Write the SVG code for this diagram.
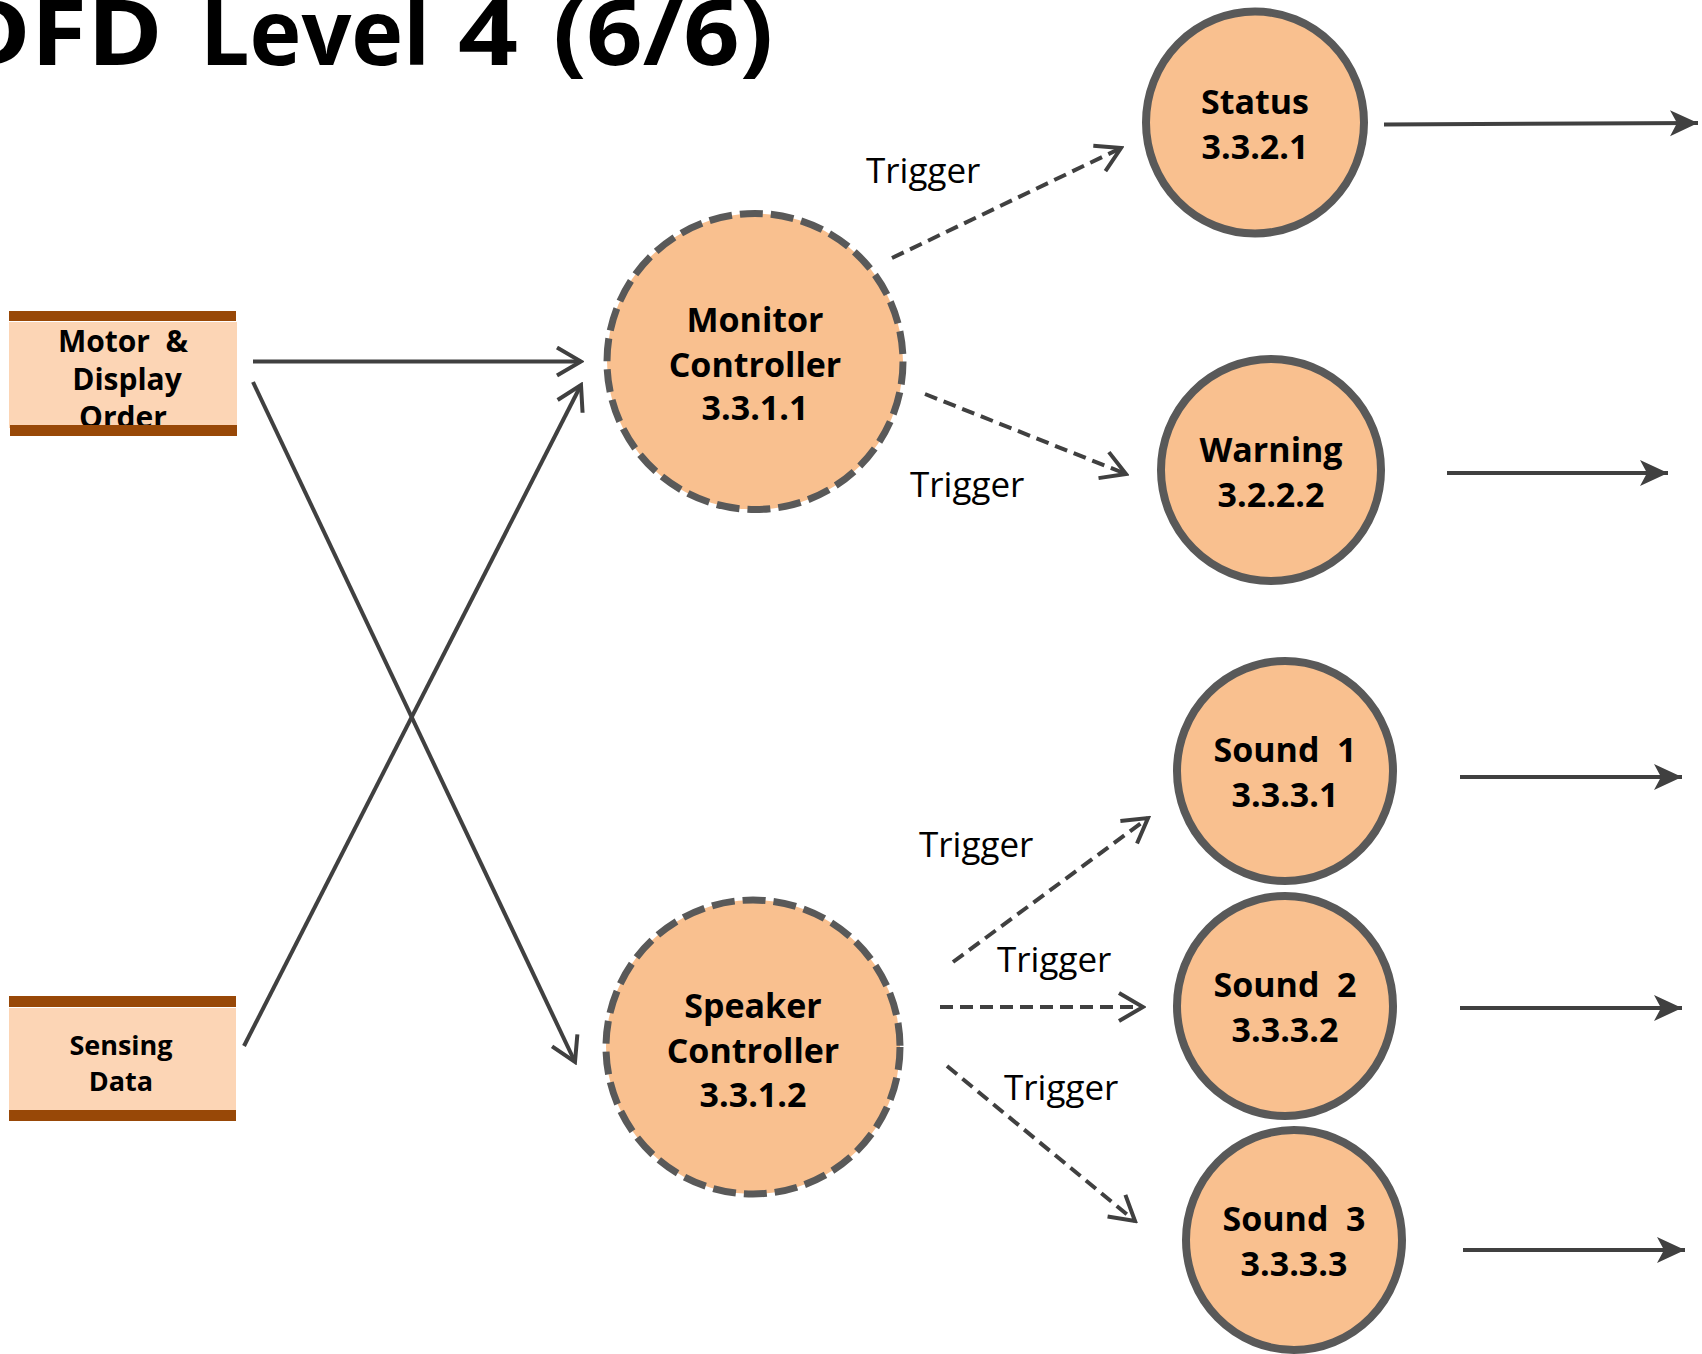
<svg xmlns="http://www.w3.org/2000/svg" width="1702" height="1354" viewBox="0 0 1702 1354">
  <style>
    .title { font-family: "Open Sans", "Noto Sans", sans-serif; font-weight: bold; font-size: 92px; fill: #000; }
    .lbl { font-family: "Open Sans", "Noto Sans", sans-serif; font-weight: bold; font-size: 34px; fill: #000; text-anchor: middle; }
    .store-lbl { font-family: "Open Sans", "Noto Sans", sans-serif; font-weight: bold; fill: #000; text-anchor: middle; }
    .trig { font-family: "Open Sans", "Noto Sans", sans-serif; font-size: 35px; fill: #000; }
    .proc { fill: #F9C08F; stroke: #595959; stroke-width: 8; }
    .ctrl { fill: #F9C08F; stroke: #595959; stroke-width: 7; stroke-dasharray: 23 8; }
    .store-fill { fill: #FCD5B5; }
    .store-bar { fill: #984807; }
    .flow { stroke: #404040; stroke-width: 4; fill: none; }
    .trigger { stroke: #404040; stroke-width: 4; fill: none; stroke-dasharray: 13 7; }
  </style>
  <defs>
    <marker id="open" viewBox="0 0 30 32" refX="27" refY="16" markerWidth="30" markerHeight="32" markerUnits="userSpaceOnUse" orient="auto">
      <path d="M3,2 L27,16 L3,30" fill="none" stroke="#404040" stroke-width="4" stroke-dasharray="none"/>
    </marker>
    <marker id="solid" viewBox="0 0 28 28" refX="28" refY="14" markerWidth="28" markerHeight="28" markerUnits="userSpaceOnUse" orient="auto">
      <path d="M0,1 L28,14 L0,27 L7,14 Z" fill="#404040"/>
    </marker>
  </defs>

  <rect width="1702" height="1354" fill="#ffffff"/>

  <!-- page heading -->
  <g id="heading">
    <text class="title" x="-45" y="65" textLength="208" lengthAdjust="spacingAndGlyphs">DFD</text>
    <text class="title" x="200" y="65" textLength="230" lengthAdjust="spacingAndGlyphs">Level</text>
    <text class="title" x="458" y="65" textLength="60" lengthAdjust="spacingAndGlyphs">4</text>
    <text class="title" x="553" y="65" textLength="220" lengthAdjust="spacingAndGlyphs">(6/6)</text>
  </g>

  <!-- data flows -->
  <g id="connectors">
    <line class="flow" x1="253" y1="361.5" x2="581" y2="361.5" marker-end="url(#open)"/>
    <line class="flow" x1="253" y1="382" x2="575" y2="1062" marker-end="url(#open)"/>
    <line class="flow" x1="244" y1="1046" x2="581" y2="385" marker-end="url(#open)"/>

    <line class="trigger" x1="892" y1="258" x2="1121" y2="148" marker-end="url(#open)"/>
    <line class="trigger" x1="925" y1="394" x2="1126" y2="474" marker-end="url(#open)"/>
    <line class="trigger" x1="953" y1="962" x2="1148" y2="818" marker-end="url(#open)"/>
    <line class="trigger" x1="940" y1="1007" x2="1143" y2="1007" marker-end="url(#open)"/>
    <line class="trigger" x1="947" y1="1066" x2="1135" y2="1221" marker-end="url(#open)"/>

    <line class="flow" x1="1384" y1="124.5" x2="1698" y2="123" marker-end="url(#solid)"/>
    <line class="flow" x1="1447" y1="473" x2="1668" y2="473" marker-end="url(#solid)"/>
    <line class="flow" x1="1460" y1="777" x2="1682" y2="777" marker-end="url(#solid)"/>
    <line class="flow" x1="1460" y1="1008" x2="1682" y2="1008" marker-end="url(#solid)"/>
    <line class="flow" x1="1463" y1="1250" x2="1685" y2="1250" marker-end="url(#solid)"/>

    <text class="trig" x="866" y="183">Trigger</text>
    <text class="trig" x="910" y="497">Trigger</text>
    <text class="trig" x="919" y="857">Trigger</text>
    <text class="trig" x="997" y="972">Trigger</text>
    <text class="trig" x="1004" y="1100">Trigger</text>
  </g>

  <!-- data stores -->
  <g id="store-motor-display-order">
    <rect class="store-fill" x="9" y="322" width="228" height="106"/>
    <text class="store-lbl" font-size="30" x="123" y="352" xml:space="preserve">Motor  &amp;</text>
    <text class="store-lbl" font-size="30" x="127" y="390">Display</text>
    <text class="store-lbl" font-size="30" x="123" y="428">Order</text>
    <rect class="store-bar" x="9" y="311" width="227" height="10"/>
    <rect class="store-bar" x="10" y="425" width="227" height="11"/>
  </g>

  <g id="store-sensing-data">
    <rect class="store-fill" x="9" y="1008" width="227" height="102"/>
    <text class="store-lbl" font-size="27" x="121" y="1055">Sensing</text>
    <text class="store-lbl" font-size="27" x="121" y="1091">Data</text>
    <rect class="store-bar" x="9" y="996" width="227" height="11"/>
    <rect class="store-bar" x="9" y="1110" width="227" height="11"/>
  </g>

  <!-- control processes -->
  <g id="monitor-controller">
    <circle class="ctrl" cx="755" cy="361.5" r="148"/>
    <text class="lbl" x="755" y="332">Monitor</text>
    <text class="lbl" x="755" y="377">Controller</text>
    <text class="lbl" x="755" y="420">3.3.1.1</text>
  </g>

  <g id="speaker-controller">
    <circle class="ctrl" cx="753" cy="1047" r="147"/>
    <text class="lbl" x="753" y="1018">Speaker</text>
    <text class="lbl" x="753" y="1063">Controller</text>
    <text class="lbl" x="753" y="1107">3.3.1.2</text>
  </g>

  <!-- processes -->
  <g id="status">
    <ellipse class="proc" cx="1255" cy="122.5" rx="109" ry="111"/>
    <text class="lbl" x="1255" y="114">Status</text>
    <text class="lbl" x="1255" y="159">3.3.2.1</text>
  </g>

  <g id="warning">
    <ellipse class="proc" cx="1271" cy="470" rx="110" ry="111"/>
    <text class="lbl" x="1271" y="462">Warning</text>
    <text class="lbl" x="1271" y="507">3.2.2.2</text>
  </g>

  <g id="sound-1">
    <ellipse class="proc" cx="1285" cy="771" rx="108" ry="110"/>
    <text class="lbl" x="1285" y="762" xml:space="preserve">Sound  1</text>
    <text class="lbl" x="1285" y="807">3.3.3.1</text>
  </g>

  <g id="sound-2">
    <ellipse class="proc" cx="1285" cy="1006" rx="108" ry="110"/>
    <text class="lbl" x="1285" y="997" xml:space="preserve">Sound  2</text>
    <text class="lbl" x="1285" y="1042">3.3.3.2</text>
  </g>

  <g id="sound-3">
    <ellipse class="proc" cx="1294" cy="1240" rx="108" ry="110"/>
    <text class="lbl" x="1294" y="1231" xml:space="preserve">Sound  3</text>
    <text class="lbl" x="1294" y="1276">3.3.3.3</text>
  </g>
</svg>
